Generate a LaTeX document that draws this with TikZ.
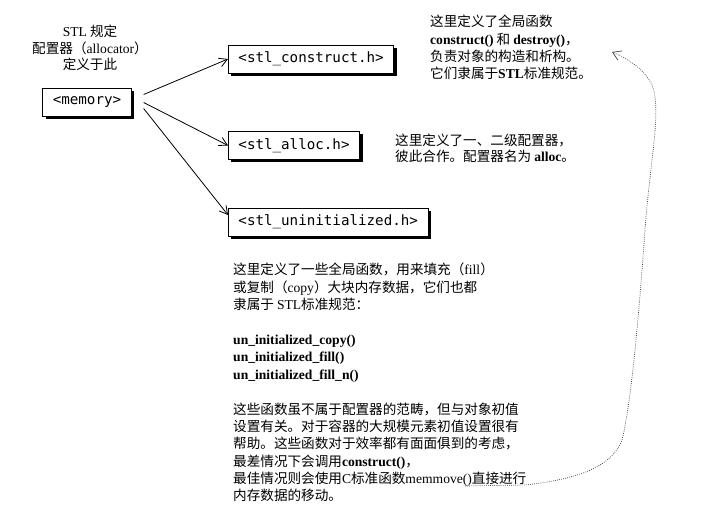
\documentclass[tikz,border=0pt]{standalone}
\usepackage{fontspec}
\setmainfont{Noto Sans CJK SC}
\setmonofont{DejaVu Sans Mono}
\newfontfamily\tm{Liberation Serif}
\usetikzlibrary{arrows.meta,positioning,shadows}
\newcommand{\en}[1]{{\tm #1}}
\newcommand{\enb}[1]{{\tm\bfseries #1}}

\begin{document}
\begin{tikzpicture}[x=1pt, y=-1pt,
  hdr/.style={draw=black, fill=white, line width=0.9pt, inner xsep=10pt, minimum height=28pt,
    font=\ttfamily\fontsize{14.2}{16}\selectfont,
    drop shadow={shadow xshift=3pt, shadow yshift=-3pt, fill=black, opacity=1}},
  note/.style={anchor=base west, align=left, inner sep=0pt, font=\fontsize{13.6}{17.4}\selectfont},
  inc/.style={-{Straight Barb[length=8pt,width=9pt]}, line width=0.8pt}]
\useasboundingbox (0,0) rectangle (710,510);
% Header boxes
\node[hdr] (memory) at (87,102.5) {<memory>};
\node[hdr, anchor=west] (construct) at (228,59) {<stl\_construct.h>};
\node[hdr, anchor=west] (alloc) at (228,145.5) {<stl\_alloc.h>};
\node[hdr, anchor=west] (uninit) at (228,222) {<stl\_uninitialized.h>};
% Includes
\draw[inc] ([xshift=12pt,yshift=8pt]memory.east) -- (construct.west);
\draw[inc] ([xshift=12pt]memory.east) -- (alloc.west);
\draw[inc] ([xshift=12pt,yshift=-6pt]memory.east) -- ([yshift=7pt]uninit.west);
% Notes (placed by the baseline of their last line)
\node[note, anchor=base, align=center, font=\fontsize{13.6}{16.6}\selectfont] (caption) at (90,70)
  {\en{STL} 规定\\ 配置器（\en{allocator}）\\ 定义于此};
\node[note] (constructnote) at (430,79)
  {这里定义了全局函数\\ \enb{construct()} 和 \enb{destroy()}，\\ 负责对象的构造和析构。\\ 它们隶属于\enb{STL}标准规范。};
\node[note, font=\fontsize{13.6}{16.8}\selectfont] (allocnote) at (395,162)
  {这里定义了一、二级配置器，\\ 彼此合作。配置器名为 \enb{alloc}。};
\node[note] (uninitnote) at (233,501)
  {这里定义了一些全局函数，用来填充（\en{fill}）\\
   或复制（\en{copy}）大块内存数据，它们也都\\
   隶属于 \en{STL}标准规范：\\[17.4pt]
   \enb{un\_initialized\_copy()}\\
   \enb{un\_initialized\_fill()}\\
   \enb{un\_initialized\_fill\_n()}\\[17.4pt]
   这些函数虽不属于配置器的范畴，但与对象初值\\
   设置有关。对于容器的大规模元素初值设置很有\\
   帮助。这些函数对于效率都有面面俱到的考虑，\\
   最差情况下会调用\enb{construct()}，\\
   最佳情况则会使用\en{C}标准函数\en{memmove()}直接进行\\
   内存数据的移动。};
% Dotted back reference
\coordinate (loopstart) at (465,486);
\coordinate (looptip) at (612,52);
\draw[black!75, line width=0.7pt, dash pattern=on 0.8pt off 1.3pt, -{Straight Barb[length=8pt,width=10pt]}]
  (loopstart) -- (525,485) .. controls (580,479) and (612,466) .. (622,440)
  .. controls (632,400) and (640,300) .. (645,230)
  .. controls (650,160) and (662,110) .. (652,85)
  .. controls (645,70) and (630,60) .. (looptip);
\end{tikzpicture}
\end{document}
